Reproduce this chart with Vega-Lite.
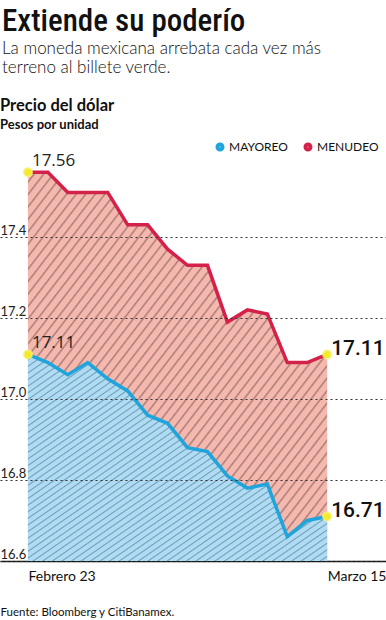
{
  "$schema": "https://vega.github.io/schema/vega-lite/v6.json",
  "padding": {"left": 0, "right": 0, "top": 5, "bottom": 0},
  "background": "white",
  "config": {"view": {"stroke": null}, "font": "Lato"},
  "title": {
    "text": "Extiende su poderío",
    "subtitle": ["La moneda mexicana arrebata cada vez más", "terreno al billete verde."],
    "anchor": "start",
    "dx": 2,
    "font": "'Roboto Condensed', 'Open Sans Condensed', 'Arial Narrow', Roboto",
    "fontSize": 31,
    "fontWeight": 500,
    "color": "#111111",
    "subtitleFont": "Lato",
    "subtitleFontSize": 17,
    "subtitleFontWeight": 300,
    "subtitleColor": "#111111",
    "subtitlePadding": 3,
    "subtitleLineHeight": 19,
    "offset": 21
  },
  "vconcat": [
    {
      "width": 386,
      "height": 405,
      "title": {
        "text": "Precio del dólar",
        "subtitle": "Pesos por unidad",
        "anchor": "start",
        "font": "Lato",
        "fontSize": 16.5,
        "fontWeight": "bold",
        "color": "#111111",
        "subtitleFont": "Lato",
        "subtitleFontSize": 13,
        "subtitleFontWeight": "bold",
        "subtitleColor": "#111111",
        "subtitlePadding": 5,
        "offset": 20
      },
      "data": {
        "values": [
          {"dia": 0, "fecha": "2024-02-23", "serie": "MAYOREO", "valor": 17.11},
          {"dia": 1, "fecha": "2024-02-26", "serie": "MAYOREO", "valor": 17.09},
          {"dia": 2, "fecha": "2024-02-27", "serie": "MAYOREO", "valor": 17.06},
          {"dia": 3, "fecha": "2024-02-28", "serie": "MAYOREO", "valor": 17.09},
          {"dia": 4, "fecha": "2024-02-29", "serie": "MAYOREO", "valor": 17.05},
          {"dia": 5, "fecha": "2024-03-01", "serie": "MAYOREO", "valor": 17.02},
          {"dia": 6, "fecha": "2024-03-04", "serie": "MAYOREO", "valor": 16.96},
          {"dia": 7, "fecha": "2024-03-05", "serie": "MAYOREO", "valor": 16.94},
          {"dia": 8, "fecha": "2024-03-06", "serie": "MAYOREO", "valor": 16.88},
          {"dia": 9, "fecha": "2024-03-07", "serie": "MAYOREO", "valor": 16.87},
          {"dia": 10, "fecha": "2024-03-08", "serie": "MAYOREO", "valor": 16.81},
          {"dia": 11, "fecha": "2024-03-11", "serie": "MAYOREO", "valor": 16.78},
          {"dia": 12, "fecha": "2024-03-12", "serie": "MAYOREO", "valor": 16.79},
          {"dia": 13, "fecha": "2024-03-13", "serie": "MAYOREO", "valor": 16.66},
          {"dia": 14, "fecha": "2024-03-14", "serie": "MAYOREO", "valor": 16.70},
          {"dia": 15, "fecha": "2024-03-15", "serie": "MAYOREO", "valor": 16.71},
          {"dia": 0, "fecha": "2024-02-23", "serie": "MENUDEO", "valor": 17.56},
          {"dia": 1, "fecha": "2024-02-26", "serie": "MENUDEO", "valor": 17.56},
          {"dia": 2, "fecha": "2024-02-27", "serie": "MENUDEO", "valor": 17.51},
          {"dia": 3, "fecha": "2024-02-28", "serie": "MENUDEO", "valor": 17.51},
          {"dia": 4, "fecha": "2024-02-29", "serie": "MENUDEO", "valor": 17.51},
          {"dia": 5, "fecha": "2024-03-01", "serie": "MENUDEO", "valor": 17.43},
          {"dia": 6, "fecha": "2024-03-04", "serie": "MENUDEO", "valor": 17.43},
          {"dia": 7, "fecha": "2024-03-05", "serie": "MENUDEO", "valor": 17.37},
          {"dia": 8, "fecha": "2024-03-06", "serie": "MENUDEO", "valor": 17.33},
          {"dia": 9, "fecha": "2024-03-07", "serie": "MENUDEO", "valor": 17.33},
          {"dia": 10, "fecha": "2024-03-08", "serie": "MENUDEO", "valor": 17.19},
          {"dia": 11, "fecha": "2024-03-11", "serie": "MENUDEO", "valor": 17.22},
          {"dia": 12, "fecha": "2024-03-12", "serie": "MENUDEO", "valor": 17.21},
          {"dia": 13, "fecha": "2024-03-13", "serie": "MENUDEO", "valor": 17.09},
          {"dia": 14, "fecha": "2024-03-14", "serie": "MENUDEO", "valor": 17.09},
          {"dia": 15, "fecha": "2024-03-15", "serie": "MENUDEO", "valor": 17.11}
        ]
      },
      "encoding": {
        "x": {
          "field": "dia",
          "type": "quantitative",
          "scale": {"domain": [-1.4, 17.95], "nice": false, "zero": false},
          "axis": {
            "values": [0, 15],
            "labelExpr": "datum.value == 0 ? 'Febrero 23' : 'Marzo 15'",
            "labelAlign": "left",
            "labelAngle": 0,
            "labelFont": "Lato",
            "labelFontSize": 14,
            "labelColor": "#111111",
            "labelPadding": 8,
            "labelFlush": false,
            "labelOverlap": false,
            "labelBound": false,
            "ticks": false,
            "grid": false,
            "domain": true,
            "domainColor": "#111111",
            "domainWidth": 1.5,
            "title": "Fuente: Bloomberg y CitiBanamex.",
            "titleFont": "Lato",
            "titleFontSize": 11.5,
            "titleFontWeight": "normal",
            "titleColor": "#111111",
            "titleAnchor": "start",
            "titleAlign": "left",
            "titlePadding": 23
          }
        },
        "y": {
          "field": "valor",
          "type": "quantitative",
          "scale": {"domain": [16.6, 17.6], "nice": false, "zero": false},
          "axis": {
            "values": [16.6, 16.8, 17.0, 17.2, 17.4],
            "format": ".1f",
            "title": null,
            "domain": false,
            "ticks": false,
            "labelAlign": "left",
            "labelBaseline": "alphabetic",
            "labelPadding": 0,
            "labelOffset": -3,
            "labelFont": "Lato",
            "labelFontSize": 13,
            "labelColor": "#222222",
            "grid": true,
            "gridDash": [2, 3],
            "gridColor": "#333333",
            "gridWidth": 1,
            "zindex": 1
          }
        }
      },
      "layer": [
        {
          "transform": [{"filter": "datum.serie == 'MENUDEO'"}],
          "mark": {
            "type": "area",
            "opacity": 1,
            "color": {
              "gradient": "linear", "x1": 0, "y1": 0, "x2": 1, "y2": 1,
              "stops": [
                {"offset": 0, "color": "#f5b8ae"}, {"offset": 0.01, "color": "#f5b8ae"}, {"offset": 0.0125, "color": "#a87a75"},
                {"offset": 0.016, "color": "#f5b8ae"}, {"offset": 0.026, "color": "#f5b8ae"}, {"offset": 0.0285, "color": "#a87a75"},
                {"offset": 0.032, "color": "#f5b8ae"}, {"offset": 0.042, "color": "#f5b8ae"}, {"offset": 0.0445, "color": "#a87a75"},
                {"offset": 0.048, "color": "#f5b8ae"}, {"offset": 0.058, "color": "#f5b8ae"}, {"offset": 0.0605, "color": "#a87a75"},
                {"offset": 0.064, "color": "#f5b8ae"}, {"offset": 0.074, "color": "#f5b8ae"}, {"offset": 0.0765, "color": "#a87a75"},
                {"offset": 0.08, "color": "#f5b8ae"}, {"offset": 0.09, "color": "#f5b8ae"}, {"offset": 0.0925, "color": "#a87a75"},
                {"offset": 0.096, "color": "#f5b8ae"}, {"offset": 0.106, "color": "#f5b8ae"}, {"offset": 0.1085, "color": "#a87a75"},
                {"offset": 0.112, "color": "#f5b8ae"}, {"offset": 0.122, "color": "#f5b8ae"}, {"offset": 0.1245, "color": "#a87a75"},
                {"offset": 0.128, "color": "#f5b8ae"}, {"offset": 0.138, "color": "#f5b8ae"}, {"offset": 0.1405, "color": "#a87a75"},
                {"offset": 0.144, "color": "#f5b8ae"}, {"offset": 0.154, "color": "#f5b8ae"}, {"offset": 0.1565, "color": "#a87a75"},
                {"offset": 0.16, "color": "#f5b8ae"}, {"offset": 0.17, "color": "#f5b8ae"}, {"offset": 0.1725, "color": "#a87a75"},
                {"offset": 0.176, "color": "#f5b8ae"}, {"offset": 0.186, "color": "#f5b8ae"}, {"offset": 0.1885, "color": "#a87a75"},
                {"offset": 0.192, "color": "#f5b8ae"}, {"offset": 0.202, "color": "#f5b8ae"}, {"offset": 0.2045, "color": "#a87a75"},
                {"offset": 0.208, "color": "#f5b8ae"}, {"offset": 0.218, "color": "#f5b8ae"}, {"offset": 0.2205, "color": "#a87a75"},
                {"offset": 0.224, "color": "#f5b8ae"}, {"offset": 0.234, "color": "#f5b8ae"}, {"offset": 0.2365, "color": "#a87a75"},
                {"offset": 0.24, "color": "#f5b8ae"}, {"offset": 0.25, "color": "#f5b8ae"}, {"offset": 0.2525, "color": "#a87a75"},
                {"offset": 0.256, "color": "#f5b8ae"}, {"offset": 0.266, "color": "#f5b8ae"}, {"offset": 0.2685, "color": "#a87a75"},
                {"offset": 0.272, "color": "#f5b8ae"}, {"offset": 0.282, "color": "#f5b8ae"}, {"offset": 0.2845, "color": "#a87a75"},
                {"offset": 0.288, "color": "#f5b8ae"}, {"offset": 0.298, "color": "#f5b8ae"}, {"offset": 0.3005, "color": "#a87a75"},
                {"offset": 0.304, "color": "#f5b8ae"}, {"offset": 0.314, "color": "#f5b8ae"}, {"offset": 0.3165, "color": "#a87a75"},
                {"offset": 0.32, "color": "#f5b8ae"}, {"offset": 0.33, "color": "#f5b8ae"}, {"offset": 0.3325, "color": "#a87a75"},
                {"offset": 0.336, "color": "#f5b8ae"}, {"offset": 0.346, "color": "#f5b8ae"}, {"offset": 0.3485, "color": "#a87a75"},
                {"offset": 0.352, "color": "#f5b8ae"}, {"offset": 0.362, "color": "#f5b8ae"}, {"offset": 0.3645, "color": "#a87a75"},
                {"offset": 0.368, "color": "#f5b8ae"}, {"offset": 0.378, "color": "#f5b8ae"}, {"offset": 0.3805, "color": "#a87a75"},
                {"offset": 0.384, "color": "#f5b8ae"}, {"offset": 0.394, "color": "#f5b8ae"}, {"offset": 0.3965, "color": "#a87a75"},
                {"offset": 0.4, "color": "#f5b8ae"}, {"offset": 0.41, "color": "#f5b8ae"}, {"offset": 0.4125, "color": "#a87a75"},
                {"offset": 0.416, "color": "#f5b8ae"}, {"offset": 0.426, "color": "#f5b8ae"}, {"offset": 0.4285, "color": "#a87a75"},
                {"offset": 0.432, "color": "#f5b8ae"}, {"offset": 0.442, "color": "#f5b8ae"}, {"offset": 0.4445, "color": "#a87a75"},
                {"offset": 0.448, "color": "#f5b8ae"}, {"offset": 0.458, "color": "#f5b8ae"}, {"offset": 0.4605, "color": "#a87a75"},
                {"offset": 0.464, "color": "#f5b8ae"}, {"offset": 0.474, "color": "#f5b8ae"}, {"offset": 0.4765, "color": "#a87a75"},
                {"offset": 0.48, "color": "#f5b8ae"}, {"offset": 0.49, "color": "#f5b8ae"}, {"offset": 0.4925, "color": "#a87a75"},
                {"offset": 0.496, "color": "#f5b8ae"}, {"offset": 0.506, "color": "#f5b8ae"}, {"offset": 0.5085, "color": "#a87a75"},
                {"offset": 0.512, "color": "#f5b8ae"}, {"offset": 0.522, "color": "#f5b8ae"}, {"offset": 0.5245, "color": "#a87a75"},
                {"offset": 0.528, "color": "#f5b8ae"}, {"offset": 0.538, "color": "#f5b8ae"}, {"offset": 0.5405, "color": "#a87a75"},
                {"offset": 0.544, "color": "#f5b8ae"}, {"offset": 0.554, "color": "#f5b8ae"}, {"offset": 0.5565, "color": "#a87a75"},
                {"offset": 0.56, "color": "#f5b8ae"}, {"offset": 0.57, "color": "#f5b8ae"}, {"offset": 0.5725, "color": "#a87a75"},
                {"offset": 0.576, "color": "#f5b8ae"}, {"offset": 0.586, "color": "#f5b8ae"}, {"offset": 0.5885, "color": "#a87a75"},
                {"offset": 0.592, "color": "#f5b8ae"}, {"offset": 0.602, "color": "#f5b8ae"}, {"offset": 0.6045, "color": "#a87a75"},
                {"offset": 0.608, "color": "#f5b8ae"}, {"offset": 0.618, "color": "#f5b8ae"}, {"offset": 0.6205, "color": "#a87a75"},
                {"offset": 0.624, "color": "#f5b8ae"}, {"offset": 0.634, "color": "#f5b8ae"}, {"offset": 0.6365, "color": "#a87a75"},
                {"offset": 0.64, "color": "#f5b8ae"}, {"offset": 0.65, "color": "#f5b8ae"}, {"offset": 0.6525, "color": "#a87a75"},
                {"offset": 0.656, "color": "#f5b8ae"}, {"offset": 0.666, "color": "#f5b8ae"}, {"offset": 0.6685, "color": "#a87a75"},
                {"offset": 0.672, "color": "#f5b8ae"}, {"offset": 0.682, "color": "#f5b8ae"}, {"offset": 0.6845, "color": "#a87a75"},
                {"offset": 0.688, "color": "#f5b8ae"}, {"offset": 0.698, "color": "#f5b8ae"}, {"offset": 0.7005, "color": "#a87a75"},
                {"offset": 0.704, "color": "#f5b8ae"}, {"offset": 0.714, "color": "#f5b8ae"}, {"offset": 0.7165, "color": "#a87a75"},
                {"offset": 0.72, "color": "#f5b8ae"}, {"offset": 0.73, "color": "#f5b8ae"}, {"offset": 0.7325, "color": "#a87a75"},
                {"offset": 0.736, "color": "#f5b8ae"}, {"offset": 0.746, "color": "#f5b8ae"}, {"offset": 0.7485, "color": "#a87a75"},
                {"offset": 0.752, "color": "#f5b8ae"}, {"offset": 0.762, "color": "#f5b8ae"}, {"offset": 0.7645, "color": "#a87a75"},
                {"offset": 0.768, "color": "#f5b8ae"}, {"offset": 0.778, "color": "#f5b8ae"}, {"offset": 0.7805, "color": "#a87a75"},
                {"offset": 0.784, "color": "#f5b8ae"}, {"offset": 0.794, "color": "#f5b8ae"}, {"offset": 0.7965, "color": "#a87a75"},
                {"offset": 0.8, "color": "#f5b8ae"}, {"offset": 0.81, "color": "#f5b8ae"}, {"offset": 0.8125, "color": "#a87a75"},
                {"offset": 0.816, "color": "#f5b8ae"}, {"offset": 0.826, "color": "#f5b8ae"}, {"offset": 0.8285, "color": "#a87a75"},
                {"offset": 0.832, "color": "#f5b8ae"}, {"offset": 0.842, "color": "#f5b8ae"}, {"offset": 0.8445, "color": "#a87a75"},
                {"offset": 0.848, "color": "#f5b8ae"}, {"offset": 0.858, "color": "#f5b8ae"}, {"offset": 0.8605, "color": "#a87a75"},
                {"offset": 0.864, "color": "#f5b8ae"}, {"offset": 0.874, "color": "#f5b8ae"}, {"offset": 0.8765, "color": "#a87a75"},
                {"offset": 0.88, "color": "#f5b8ae"}, {"offset": 0.89, "color": "#f5b8ae"}, {"offset": 0.8925, "color": "#a87a75"},
                {"offset": 0.896, "color": "#f5b8ae"}, {"offset": 0.906, "color": "#f5b8ae"}, {"offset": 0.9085, "color": "#a87a75"},
                {"offset": 0.912, "color": "#f5b8ae"}, {"offset": 0.922, "color": "#f5b8ae"}, {"offset": 0.9245, "color": "#a87a75"},
                {"offset": 0.928, "color": "#f5b8ae"}, {"offset": 0.938, "color": "#f5b8ae"}, {"offset": 0.9405, "color": "#a87a75"},
                {"offset": 0.944, "color": "#f5b8ae"}, {"offset": 0.954, "color": "#f5b8ae"}, {"offset": 0.9565, "color": "#a87a75"},
                {"offset": 0.96, "color": "#f5b8ae"}, {"offset": 0.97, "color": "#f5b8ae"}, {"offset": 0.9725, "color": "#a87a75"},
                {"offset": 0.976, "color": "#f5b8ae"}, {"offset": 0.986, "color": "#f5b8ae"}, {"offset": 0.9885, "color": "#a87a75"},
                {"offset": 0.992, "color": "#f5b8ae"}, {"offset": 1, "color": "#f5b8ae"}
              ]
            }
          },
          "encoding": {"y2": {"datum": 16.6}}
        },
        {
          "transform": [{"filter": "datum.serie == 'MAYOREO'"}],
          "mark": {
            "type": "area",
            "opacity": 1,
            "color": {
              "gradient": "linear", "x1": 0, "y1": 0, "x2": 1, "y2": 1,
              "stops": [
                {"offset": 0, "color": "#afdcf3"}, {"offset": 0.01, "color": "#afdcf3"}, {"offset": 0.0125, "color": "#6f9cb6"},
                {"offset": 0.016, "color": "#afdcf3"}, {"offset": 0.026, "color": "#afdcf3"}, {"offset": 0.0285, "color": "#6f9cb6"},
                {"offset": 0.032, "color": "#afdcf3"}, {"offset": 0.042, "color": "#afdcf3"}, {"offset": 0.0445, "color": "#6f9cb6"},
                {"offset": 0.048, "color": "#afdcf3"}, {"offset": 0.058, "color": "#afdcf3"}, {"offset": 0.0605, "color": "#6f9cb6"},
                {"offset": 0.064, "color": "#afdcf3"}, {"offset": 0.074, "color": "#afdcf3"}, {"offset": 0.0765, "color": "#6f9cb6"},
                {"offset": 0.08, "color": "#afdcf3"}, {"offset": 0.09, "color": "#afdcf3"}, {"offset": 0.0925, "color": "#6f9cb6"},
                {"offset": 0.096, "color": "#afdcf3"}, {"offset": 0.106, "color": "#afdcf3"}, {"offset": 0.1085, "color": "#6f9cb6"},
                {"offset": 0.112, "color": "#afdcf3"}, {"offset": 0.122, "color": "#afdcf3"}, {"offset": 0.1245, "color": "#6f9cb6"},
                {"offset": 0.128, "color": "#afdcf3"}, {"offset": 0.138, "color": "#afdcf3"}, {"offset": 0.1405, "color": "#6f9cb6"},
                {"offset": 0.144, "color": "#afdcf3"}, {"offset": 0.154, "color": "#afdcf3"}, {"offset": 0.1565, "color": "#6f9cb6"},
                {"offset": 0.16, "color": "#afdcf3"}, {"offset": 0.17, "color": "#afdcf3"}, {"offset": 0.1725, "color": "#6f9cb6"},
                {"offset": 0.176, "color": "#afdcf3"}, {"offset": 0.186, "color": "#afdcf3"}, {"offset": 0.1885, "color": "#6f9cb6"},
                {"offset": 0.192, "color": "#afdcf3"}, {"offset": 0.202, "color": "#afdcf3"}, {"offset": 0.2045, "color": "#6f9cb6"},
                {"offset": 0.208, "color": "#afdcf3"}, {"offset": 0.218, "color": "#afdcf3"}, {"offset": 0.2205, "color": "#6f9cb6"},
                {"offset": 0.224, "color": "#afdcf3"}, {"offset": 0.234, "color": "#afdcf3"}, {"offset": 0.2365, "color": "#6f9cb6"},
                {"offset": 0.24, "color": "#afdcf3"}, {"offset": 0.25, "color": "#afdcf3"}, {"offset": 0.2525, "color": "#6f9cb6"},
                {"offset": 0.256, "color": "#afdcf3"}, {"offset": 0.266, "color": "#afdcf3"}, {"offset": 0.2685, "color": "#6f9cb6"},
                {"offset": 0.272, "color": "#afdcf3"}, {"offset": 0.282, "color": "#afdcf3"}, {"offset": 0.2845, "color": "#6f9cb6"},
                {"offset": 0.288, "color": "#afdcf3"}, {"offset": 0.298, "color": "#afdcf3"}, {"offset": 0.3005, "color": "#6f9cb6"},
                {"offset": 0.304, "color": "#afdcf3"}, {"offset": 0.314, "color": "#afdcf3"}, {"offset": 0.3165, "color": "#6f9cb6"},
                {"offset": 0.32, "color": "#afdcf3"}, {"offset": 0.33, "color": "#afdcf3"}, {"offset": 0.3325, "color": "#6f9cb6"},
                {"offset": 0.336, "color": "#afdcf3"}, {"offset": 0.346, "color": "#afdcf3"}, {"offset": 0.3485, "color": "#6f9cb6"},
                {"offset": 0.352, "color": "#afdcf3"}, {"offset": 0.362, "color": "#afdcf3"}, {"offset": 0.3645, "color": "#6f9cb6"},
                {"offset": 0.368, "color": "#afdcf3"}, {"offset": 0.378, "color": "#afdcf3"}, {"offset": 0.3805, "color": "#6f9cb6"},
                {"offset": 0.384, "color": "#afdcf3"}, {"offset": 0.394, "color": "#afdcf3"}, {"offset": 0.3965, "color": "#6f9cb6"},
                {"offset": 0.4, "color": "#afdcf3"}, {"offset": 0.41, "color": "#afdcf3"}, {"offset": 0.4125, "color": "#6f9cb6"},
                {"offset": 0.416, "color": "#afdcf3"}, {"offset": 0.426, "color": "#afdcf3"}, {"offset": 0.4285, "color": "#6f9cb6"},
                {"offset": 0.432, "color": "#afdcf3"}, {"offset": 0.442, "color": "#afdcf3"}, {"offset": 0.4445, "color": "#6f9cb6"},
                {"offset": 0.448, "color": "#afdcf3"}, {"offset": 0.458, "color": "#afdcf3"}, {"offset": 0.4605, "color": "#6f9cb6"},
                {"offset": 0.464, "color": "#afdcf3"}, {"offset": 0.474, "color": "#afdcf3"}, {"offset": 0.4765, "color": "#6f9cb6"},
                {"offset": 0.48, "color": "#afdcf3"}, {"offset": 0.49, "color": "#afdcf3"}, {"offset": 0.4925, "color": "#6f9cb6"},
                {"offset": 0.496, "color": "#afdcf3"}, {"offset": 0.506, "color": "#afdcf3"}, {"offset": 0.5085, "color": "#6f9cb6"},
                {"offset": 0.512, "color": "#afdcf3"}, {"offset": 0.522, "color": "#afdcf3"}, {"offset": 0.5245, "color": "#6f9cb6"},
                {"offset": 0.528, "color": "#afdcf3"}, {"offset": 0.538, "color": "#afdcf3"}, {"offset": 0.5405, "color": "#6f9cb6"},
                {"offset": 0.544, "color": "#afdcf3"}, {"offset": 0.554, "color": "#afdcf3"}, {"offset": 0.5565, "color": "#6f9cb6"},
                {"offset": 0.56, "color": "#afdcf3"}, {"offset": 0.57, "color": "#afdcf3"}, {"offset": 0.5725, "color": "#6f9cb6"},
                {"offset": 0.576, "color": "#afdcf3"}, {"offset": 0.586, "color": "#afdcf3"}, {"offset": 0.5885, "color": "#6f9cb6"},
                {"offset": 0.592, "color": "#afdcf3"}, {"offset": 0.602, "color": "#afdcf3"}, {"offset": 0.6045, "color": "#6f9cb6"},
                {"offset": 0.608, "color": "#afdcf3"}, {"offset": 0.618, "color": "#afdcf3"}, {"offset": 0.6205, "color": "#6f9cb6"},
                {"offset": 0.624, "color": "#afdcf3"}, {"offset": 0.634, "color": "#afdcf3"}, {"offset": 0.6365, "color": "#6f9cb6"},
                {"offset": 0.64, "color": "#afdcf3"}, {"offset": 0.65, "color": "#afdcf3"}, {"offset": 0.6525, "color": "#6f9cb6"},
                {"offset": 0.656, "color": "#afdcf3"}, {"offset": 0.666, "color": "#afdcf3"}, {"offset": 0.6685, "color": "#6f9cb6"},
                {"offset": 0.672, "color": "#afdcf3"}, {"offset": 0.682, "color": "#afdcf3"}, {"offset": 0.6845, "color": "#6f9cb6"},
                {"offset": 0.688, "color": "#afdcf3"}, {"offset": 0.698, "color": "#afdcf3"}, {"offset": 0.7005, "color": "#6f9cb6"},
                {"offset": 0.704, "color": "#afdcf3"}, {"offset": 0.714, "color": "#afdcf3"}, {"offset": 0.7165, "color": "#6f9cb6"},
                {"offset": 0.72, "color": "#afdcf3"}, {"offset": 0.73, "color": "#afdcf3"}, {"offset": 0.7325, "color": "#6f9cb6"},
                {"offset": 0.736, "color": "#afdcf3"}, {"offset": 0.746, "color": "#afdcf3"}, {"offset": 0.7485, "color": "#6f9cb6"},
                {"offset": 0.752, "color": "#afdcf3"}, {"offset": 0.762, "color": "#afdcf3"}, {"offset": 0.7645, "color": "#6f9cb6"},
                {"offset": 0.768, "color": "#afdcf3"}, {"offset": 0.778, "color": "#afdcf3"}, {"offset": 0.7805, "color": "#6f9cb6"},
                {"offset": 0.784, "color": "#afdcf3"}, {"offset": 0.794, "color": "#afdcf3"}, {"offset": 0.7965, "color": "#6f9cb6"},
                {"offset": 0.8, "color": "#afdcf3"}, {"offset": 0.81, "color": "#afdcf3"}, {"offset": 0.8125, "color": "#6f9cb6"},
                {"offset": 0.816, "color": "#afdcf3"}, {"offset": 0.826, "color": "#afdcf3"}, {"offset": 0.8285, "color": "#6f9cb6"},
                {"offset": 0.832, "color": "#afdcf3"}, {"offset": 0.842, "color": "#afdcf3"}, {"offset": 0.8445, "color": "#6f9cb6"},
                {"offset": 0.848, "color": "#afdcf3"}, {"offset": 0.858, "color": "#afdcf3"}, {"offset": 0.8605, "color": "#6f9cb6"},
                {"offset": 0.864, "color": "#afdcf3"}, {"offset": 0.874, "color": "#afdcf3"}, {"offset": 0.8765, "color": "#6f9cb6"},
                {"offset": 0.88, "color": "#afdcf3"}, {"offset": 0.89, "color": "#afdcf3"}, {"offset": 0.8925, "color": "#6f9cb6"},
                {"offset": 0.896, "color": "#afdcf3"}, {"offset": 0.906, "color": "#afdcf3"}, {"offset": 0.9085, "color": "#6f9cb6"},
                {"offset": 0.912, "color": "#afdcf3"}, {"offset": 0.922, "color": "#afdcf3"}, {"offset": 0.9245, "color": "#6f9cb6"},
                {"offset": 0.928, "color": "#afdcf3"}, {"offset": 0.938, "color": "#afdcf3"}, {"offset": 0.9405, "color": "#6f9cb6"},
                {"offset": 0.944, "color": "#afdcf3"}, {"offset": 0.954, "color": "#afdcf3"}, {"offset": 0.9565, "color": "#6f9cb6"},
                {"offset": 0.96, "color": "#afdcf3"}, {"offset": 0.97, "color": "#afdcf3"}, {"offset": 0.9725, "color": "#6f9cb6"},
                {"offset": 0.976, "color": "#afdcf3"}, {"offset": 0.986, "color": "#afdcf3"}, {"offset": 0.9885, "color": "#6f9cb6"},
                {"offset": 0.992, "color": "#afdcf3"}, {"offset": 1, "color": "#afdcf3"}
              ]
            }
          },
          "encoding": {"y2": {"datum": 16.6}}
        },
        {
          "mark": {"type": "line", "strokeWidth": 3.5},
          "encoding": {
            "color": {
              "field": "serie",
              "type": "nominal",
              "scale": {"domain": ["MAYOREO", "MENUDEO"], "range": ["#1fa5dc", "#d4214a"]},
              "legend": {
                "title": null,
                "orient": "none",
                "direction": "horizontal",
                "legendX": 214,
                "legendY": -15,
                "symbolType": "circle",
                "symbolSize": 16,
                "symbolStrokeWidth": 5,
                "labelFont": "Lato",
                "labelFontSize": 12,
                "labelColor": "#111111",
                "labelOffset": 3,
                "columnPadding": 8
              }
            }
          }
        },
        {
          "transform": [{"filter": "datum.dia == 0 || datum.dia == 15"}],
          "mark": {"type": "circle", "size": 70, "color": "#f3ea2a", "opacity": 1, "stroke": "#f8f180", "strokeWidth": 2, "strokeOpacity": 0.7}
        },
        {
          "transform": [{"filter": "datum.dia == 0"}],
          "mark": {"type": "text", "align": "left", "baseline": "alphabetic", "dx": 4, "dy": -6, "font": "Open Sans", "fontSize": 17, "color": "#222222"},
          "encoding": {"text": {"field": "valor", "type": "quantitative", "format": ".2f"}}
        },
        {
          "transform": [{"filter": "datum.dia == 15"}],
          "mark": {"type": "text", "align": "left", "baseline": "alphabetic", "dx": 4, "dy": 1, "font": "Roboto", "fontWeight": 500, "fontSize": 21, "color": "#111111"},
          "encoding": {"text": {"field": "valor", "type": "quantitative", "format": ".2f"}}
        }
      ]
    }
  ]
}
